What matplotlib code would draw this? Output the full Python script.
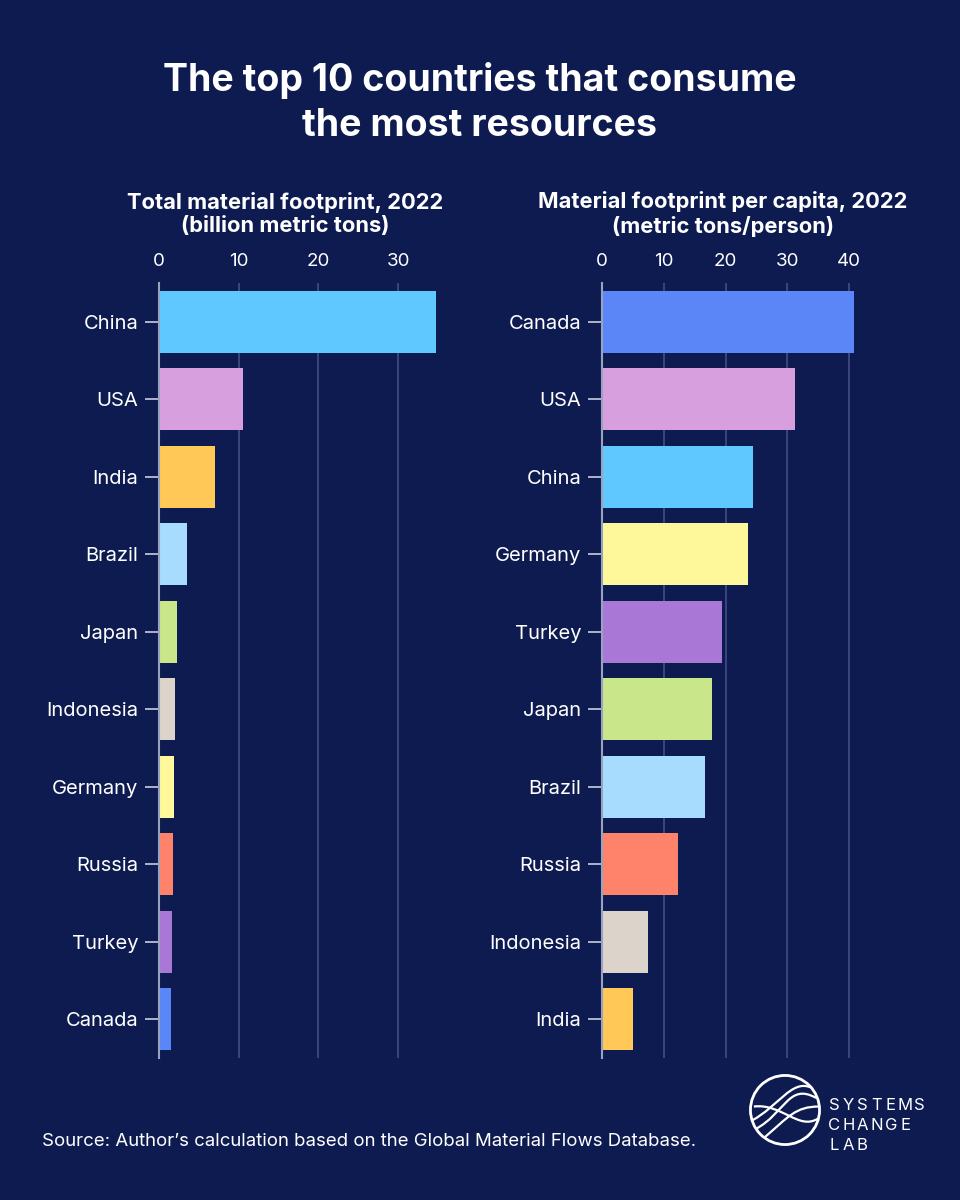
import matplotlib.pyplot as plt
from matplotlib.patches import Circle, PathPatch
from matplotlib.path import Path

plt.rcParams["font.family"] = ["Inter", "DejaVu Sans"]

BG = "#0d1b50"
GRID = "#3c4a7f"
SPINE = "#9aa2c2"

# total material footprint, billion metric tons
total_countries = ["China", "USA", "India", "Brazil", "Japan", "Indonesia",
                   "Germany", "Russia", "Turkey", "Canada"]
total_values = [34.8, 10.5, 7.0, 3.5, 2.2, 2.0, 1.9, 1.75, 1.65, 1.55]

# material footprint per capita, metric tons/person
capita_countries = ["Canada", "USA", "China", "Germany", "Turkey", "Japan",
                    "Brazil", "Russia", "Indonesia", "India"]
capita_values = [40.7, 31.2, 24.5, 23.6, 19.4, 17.8, 16.6, 12.3, 7.4, 5.0]

country_colors = {
    "China": "#5ec8ff", "USA": "#d79fdd", "India": "#ffc857",
    "Brazil": "#a8dcff", "Japan": "#c9e68a", "Indonesia": "#dcd4ca",
    "Germany": "#fff89a", "Russia": "#ff826a", "Turkey": "#a978d6",
    "Canada": "#5b86f7",
}

fig = plt.figure(figsize=(9.6, 12), dpi=100)
fig.patch.set_facecolor(BG)


def draw_panel(rect, countries, values, xmax, ticks):
    ax = fig.add_axes(rect)
    ax.set_facecolor(BG)
    ypos = list(range(len(countries)))
    ax.barh(ypos, values, height=0.8,
            color=[country_colors[c] for c in countries], zorder=3)
    ax.set_ylim(len(countries) - 0.5, -0.5)
    ax.set_xlim(0, xmax)
    ax.set_yticks(ypos)
    ax.set_yticklabels(countries)
    ax.set_xticks(ticks)
    ax.xaxis.tick_top()
    ax.tick_params(axis="x", length=0, pad=9, labelsize=13.5, colors="white")
    ax.tick_params(axis="y", length=10, width=1.2, pad=5, labelsize=14.5,
                   colors="white", color="#c8cde0")
    ax.grid(axis="x", color=GRID, linewidth=1.3, zorder=0)
    for side in ["top", "right", "bottom"]:
        ax.spines[side].set_visible(False)
    ax.spines["left"].set_color(SPINE)
    ax.spines["left"].set_linewidth(1.5)
    ax.spines["left"].set_zorder(4)
    return ax


draw_panel([159 / 960, 142 / 1200, 283 / 960, 775 / 1200],
           total_countries, total_values, 35.5, [0, 10, 20, 30])
draw_panel([602 / 960, 142 / 1200, 254 / 960, 775 / 1200],
           capita_countries, capita_values, 41.1, [0, 10, 20, 30, 40])

fig.text(0.5, 1 - 103 / 1200, "The top 10 countries that consume\nthe most resources",
         ha="center", va="center", color="white", fontsize=27, fontweight="bold",
         linespacing=1.35)
fig.text(285 / 960, 1 - 214 / 1200, "Total material footprint, 2022\n(billion metric tons)",
         ha="center", va="center", color="white", fontsize=15.8, fontweight="bold",
         linespacing=1.2)
fig.text(723 / 960, 1 - 214 / 1200, "Material footprint per capita, 2022\n(metric tons/person)",
         ha="center", va="center", color="white", fontsize=15.8, fontweight="bold",
         linespacing=1.2)
fig.text(42 / 960, 1 - 1141 / 1200,
         "Source: Author\u2019s calculation based on the Global Material Flows Database.",
         ha="left", va="center", color="white", fontsize=13.4)

# logo
logo = fig.add_axes([747 / 960, 1 - 1148 / 1200, 76 / 960, 76 / 1200])
logo.set_xlim(-1.1, 1.1)
logo.set_ylim(-1.1, 1.1)
logo.set_aspect("equal")
logo.axis("off")
logo.add_patch(Circle((0, 0), 1.0, fill=False, edgecolor="white", linewidth=2))
curves = [
    [(-0.95, -0.3), (-0.2, 0.1), (0.2, 0.9), (0.75, 0.65)],
    [(-0.85, -0.55), (0.0, -0.1), (0.1, 0.8), (0.9, 0.35)],
    [(-0.6, -0.8), (0.1, -0.2), (0.3, 0.1), (0.98, 0.1)],
    [(-0.9, 0.1), (-0.1, 0.2), (0.4, -0.6), (0.95, -0.25)],
]
for pts in curves:
    path = Path(pts, [Path.MOVETO, Path.CURVE4, Path.CURVE4, Path.CURVE4])
    logo.add_patch(PathPatch(path, fill=False, edgecolor="white", linewidth=1.6))

for i, word in enumerate(["SYSTEMS", "CHANGE", "LAB"]):
    for j, ch in enumerate(word):
        fig.text((834 + 14.2 * j) / 960, 1 - (1106 + 20 * i) / 1200, ch,
                 ha="center", va="center", color="white", fontsize=12)

fig.savefig("out.png", dpi=100, facecolor=BG)
